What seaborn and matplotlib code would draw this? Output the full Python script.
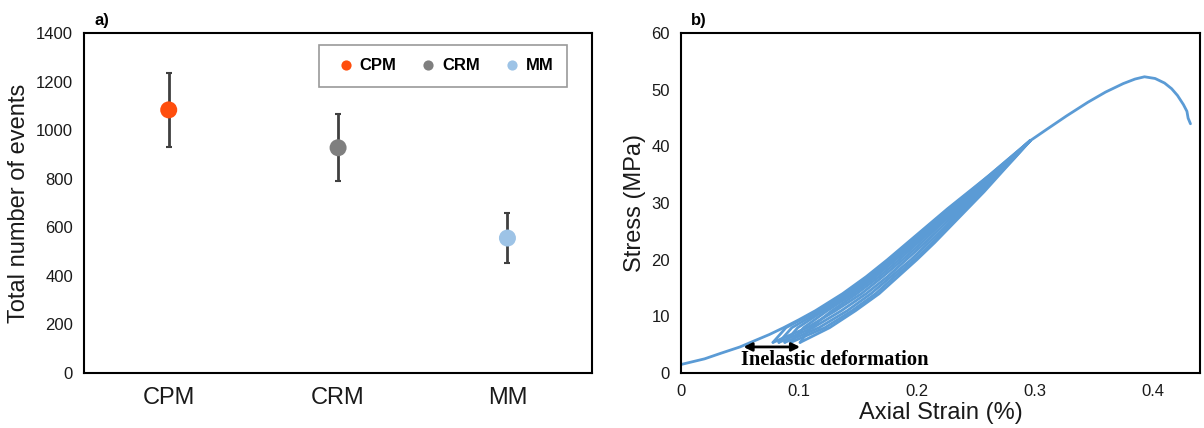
import numpy as np
import pandas as pd
import matplotlib
matplotlib.use('Agg')
import matplotlib.pyplot as plt
from matplotlib.ticker import FuncFormatter
import seaborn as sns

# ---------- a) 총 이벤트 수 ----------
categories = ['CPM', 'CRM', 'MM']
event_means = [1084, 928, 556]
event_errs = [151, 137, 104]
cat_colors = ['#FF4E0D', '#7F7F7F', '#9DC3E6']

# ---------- b) 응력-변형률 (반복 하중) ----------
# 포락선: 초기 재하 + 피크 이후
virgin_strain = [0.0, 0.02, 0.034, 0.05, 0.059, 0.075, 0.087, 0.10, 0.114, 0.137, 0.157,
                 0.175, 0.192, 0.209, 0.226, 0.244, 0.262, 0.279, 0.296]
virgin_stress = [1.5, 2.5, 3.5, 4.6, 5.4, 6.8, 8.0, 9.4, 11.0, 14.0, 17.0,
                 20.0, 23.0, 26.0, 29.0, 32.0, 35.0, 38.0, 41.0]
post_strain = [0.296, 0.31, 0.327, 0.345, 0.36, 0.375, 0.385, 0.393, 0.402, 0.41,
               0.416, 0.421, 0.426, 0.429, 0.430, 0.432]
post_stress = [41.0, 43.0, 45.4, 47.8, 49.6, 51.1, 51.9, 52.3, 52.0, 51.2,
               50.2, 49.0, 47.4, 46.2, 45.0, 44.0]

# 반복 루프: 공통 응력 레벨에서의 변형률 (R = 재하, U = 제하)
loop_stress = [5.4, 8, 11, 14, 17, 20, 23, 26, 29, 32, 35, 38, 41]
loop_curves = {
    'R1': [0.078, 0.089, 0.116, 0.139, 0.159, 0.176, 0.193, 0.210, 0.227, 0.245, 0.262, 0.279, 0.296],
    'R2': [0.083, 0.094, 0.119, 0.141, 0.161, 0.178, 0.195, 0.212, 0.228, 0.246, 0.263, 0.280, 0.296],
    'R3': [0.088, 0.099, 0.121, 0.144, 0.163, 0.180, 0.197, 0.213, 0.230, 0.247, 0.264, 0.280, 0.296],
    'R4': [0.093, 0.104, 0.124, 0.146, 0.165, 0.182, 0.199, 0.215, 0.231, 0.248, 0.264, 0.280, 0.296],
    'R5': [0.101, 0.110, 0.128, 0.149, 0.168, 0.185, 0.201, 0.217, 0.233, 0.249, 0.265, 0.281, 0.296],
    'U0': [0.078, 0.107, 0.131, 0.153, 0.171, 0.188, 0.204, 0.219, 0.235, 0.251, 0.266, 0.281, 0.296],
    'U1': [0.083, 0.112, 0.136, 0.157, 0.175, 0.191, 0.207, 0.222, 0.237, 0.253, 0.267, 0.282, 0.296],
    'U2': [0.088, 0.117, 0.141, 0.161, 0.178, 0.195, 0.210, 0.225, 0.239, 0.254, 0.268, 0.282, 0.296],
    'U3': [0.093, 0.122, 0.145, 0.165, 0.181, 0.198, 0.213, 0.227, 0.241, 0.256, 0.269, 0.283, 0.296],
    'U4': [0.101, 0.126, 0.148, 0.168, 0.184, 0.200, 0.215, 0.229, 0.243, 0.257, 0.270, 0.283, 0.296],
}
arrow_range = [0.053, 0.101]
arrow_stress = 4.6
curve_color = '#5B9BD5'

# 긴 형식 테이블
rows = []
for s, t in zip(virgin_strain, virgin_stress):
    rows.append(('virgin', s, t))
for s, t in zip(post_strain, post_stress):
    rows.append(('post', s, t))
for name, strains in loop_curves.items():
    for s, t in zip(strains, loop_stress):
        rows.append((name, s, t))
df_curve = pd.DataFrame(rows, columns=['curve', 'strain', 'stress'])

sns.set_theme(style='white')
plt.rcParams['font.family'] = ['Liberation Sans', 'DejaVu Sans']
plt.rcParams['text.color'] = '#1a1a1a'
plt.rcParams['axes.labelcolor'] = '#1a1a1a'
plt.rcParams['xtick.color'] = '#1a1a1a'
plt.rcParams['ytick.color'] = '#1a1a1a'

fig = plt.figure(figsize=(12.04, 4.28), dpi=100)
ax1 = fig.add_axes([0.0698, 0.1285, 0.422, 0.794])
ax2 = fig.add_axes([0.5656, 0.1285, 0.431, 0.794])

# ----- a) -----
xpos = np.arange(len(categories))
ax1.errorbar(xpos, event_means, yerr=event_errs, fmt='none', ecolor='#404040',
             elinewidth=2, capsize=2, capthick=1.5, zorder=2)
sns.scatterplot(x=xpos, y=event_means, hue=categories, palette=cat_colors,
                s=150, edgecolor='none', ax=ax1, zorder=3, legend=True)
ax1.set_xlim(-0.5, 2.5)
ax1.set_ylim(0, 1400)
ax1.set_yticks(range(0, 1401, 200))
ax1.set_xticks(xpos)
ax1.set_xticklabels(categories, fontsize=17)
ax1.tick_params(axis='y', labelsize=12, length=0, pad=8)
ax1.tick_params(axis='x', length=0, pad=10)
ax1.set_ylabel('Total number of events', fontsize=17)
leg = ax1.legend(loc='upper right', ncol=3, frameon=True, fancybox=False,
                 bbox_to_anchor=(0.951, 0.965), borderaxespad=0, borderpad=0.8,
                 handlelength=1.6, handletextpad=0.05, columnspacing=1.1,
                 markerscale=0.6, prop={'weight': 'bold', 'size': 12})
leg.get_frame().set_edgecolor('#808080')
leg.get_frame().set_linewidth(1.2)
for t in leg.get_texts():
    t.set_color('black')
ax1.text(0.02, 1.015, 'a)', transform=ax1.transAxes, fontsize=12, fontweight='bold',
         va='bottom', ha='left', color='black')

# ----- b) -----
sns.lineplot(data=df_curve, x='strain', y='stress', units='curve', estimator=None,
             sort=False, color=curve_color, linewidth=2.0, ax=ax2)
ax2.set_xlim(0, 0.44)
ax2.set_ylim(0, 60)
ax2.set_xticks([0, 0.1, 0.2, 0.3, 0.4])
ax2.set_yticks(range(0, 61, 10))
ax2.xaxis.set_major_formatter(FuncFormatter(lambda v, p: '0' if v == 0 else f'{v:g}'))
ax2.tick_params(axis='both', labelsize=12, length=0, pad=8)
ax2.set_xlabel('Axial Strain (%)', fontsize=17, labelpad=2)
ax2.set_ylabel('Stress (MPa)', fontsize=17)
ax2.annotate('', xy=(arrow_range[0], arrow_stress), xytext=(arrow_range[1], arrow_stress),
             arrowprops=dict(arrowstyle='<|-|>', lw=2, color='black', mutation_scale=12,
                             shrinkA=0, shrinkB=0))
ax2.text(0.13, 2.3, 'Inelastic deformation', fontsize=14.8, fontweight='bold', color='black',
         family=['Liberation Serif', 'DejaVu Serif'], ha='center', va='center')
ax2.text(0.02, 1.015, 'b)', transform=ax2.transAxes, fontsize=12, fontweight='bold',
         va='bottom', ha='left', color='black')

for ax in (ax1, ax2):
    for sp in ax.spines.values():
        sp.set_visible(True)
        sp.set_color('black')
        sp.set_linewidth(1.5)

fig.savefig('out.png', dpi=100)
